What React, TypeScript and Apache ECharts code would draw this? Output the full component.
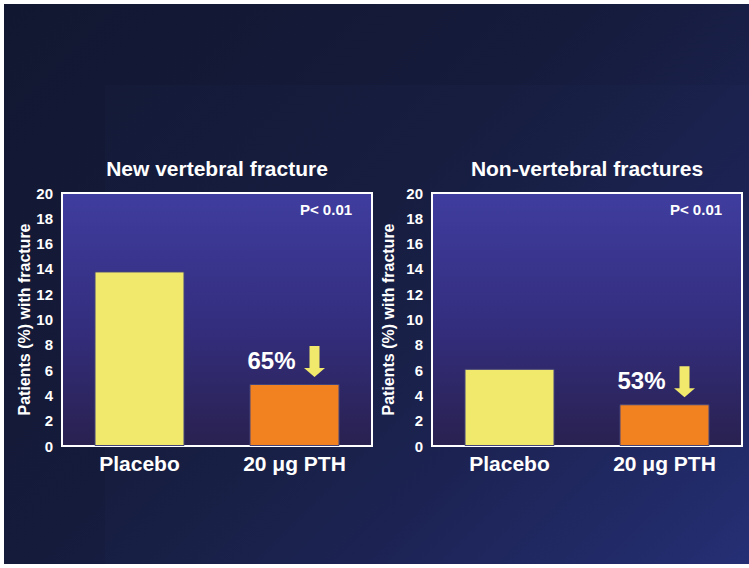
import React, { useEffect, useRef } from 'react';
import * as echarts from 'echarts';

const categories = ['Placebo', '20 μg PTH'];
const vertebralValues = [13.8, 4.9];
const nonVertebralValues = [6.1, 3.3];
const panelTitles = ['New vertebral fracture', 'Non-vertebral fractures'];
const reductionLabels = ['65%', '53%'];
const pValueLabels = ['P< 0.01', 'P< 0.01'];
const yAxisNames = ['Patients (%) with fracture', 'Patients (%) with fracture'];
const barColors = ['#f1e96b', '#f28220'];
const yMin = 0;
const yMax = 20;
const yInterval = 2;

const FONT = '"Liberation Sans", Arial, Helvetica, sans-serif';
const GRIDS = [
  { left: 62, top: 193, width: 310, height: 253 },
  { left: 432, top: 193, width: 310, height: 253 },
];
const NAME_GAPS = [29, 36];

export default function App() {
  const ref = useRef<HTMLDivElement>(null);

  useEffect(() => {
    if (!ref.current) return;
    const chart = echarts.init(ref.current, undefined, { renderer: 'svg' });
    const panels = [vertebralValues, nonVertebralValues];

    const plotBg = new echarts.graphic.LinearGradient(0, 0, 0, 1, [
      { offset: 0, color: '#3f3d9f' },
      { offset: 0.55, color: '#332d7c' },
      { offset: 1, color: '#29214f' },
    ]);

    const option: any = {
      animation: false,
      backgroundColor: 'transparent',
      textStyle: { fontFamily: FONT },
      grid: GRIDS.map((g) => ({
        ...g,
        show: true,
        backgroundColor: plotBg,
        borderColor: '#ffffff',
        borderWidth: 2,
        containLabel: false,
      })),
      xAxis: panels.map((_, i) => ({
        type: 'category',
        gridIndex: i,
        data: categories,
        axisLine: { show: false },
        axisTick: { show: false },
        axisLabel: {
          color: '#ffffff',
          fontWeight: 'bold',
          fontSize: 21,
          fontFamily: FONT,
          margin: 7,
        },
      })),
      yAxis: panels.map((_, i) => ({
        type: 'value',
        gridIndex: i,
        min: yMin,
        max: yMax,
        interval: yInterval,
        name: yAxisNames[i],
        nameLocation: 'middle',
        nameGap: NAME_GAPS[i],
        nameTextStyle: {
          color: '#ffffff',
          fontWeight: 'bold',
          fontSize: 16,
          fontFamily: FONT,
        },
        axisLine: { show: false },
        axisTick: { show: false },
        splitLine: { show: false },
        axisLabel: {
          color: '#ffffff',
          fontWeight: 'bold',
          fontSize: 15,
          fontFamily: FONT,
          margin: 9,
        },
      })),
      series: panels.map((vals, i) => ({
        type: 'bar',
        xAxisIndex: i,
        yAxisIndex: i,
        barWidth: 90,
        data: vals.map((v, k) => ({
          value: v,
          itemStyle: {
            color: barColors[k],
            borderColor: '#44447a',
            borderWidth: 1,
          },
        })),
      })),
    };
    chart.setOption(option);

    const graphics: any[] = [];
    GRIDS.forEach((g, i) => {
      graphics.push({
        type: 'text',
        x: g.left + g.width / 2,
        y: g.top - 25,
        style: {
          text: panelTitles[i],
          fill: '#ffffff',
          font: `bold 21px ${FONT}`,
          align: 'center',
          verticalAlign: 'middle',
        },
      });
      graphics.push({
        type: 'text',
        x: g.left + g.width - 46,
        y: g.top + 16,
        style: {
          text: pValueLabels[i],
          fill: '#ffffff',
          font: `bold 15px ${FONT}`,
          align: 'center',
          verticalAlign: 'middle',
        },
      });
      const vals = panels[i];
      const p = chart.convertToPixel({ seriesIndex: i }, [1, vals[1]]) as number[];
      const cx = p[0];
      const topY = p[1];
      graphics.push({
        type: 'text',
        x: cx - 23,
        y: topY - 24,
        style: {
          text: reductionLabels[i],
          fill: '#ffffff',
          font: `bold 24px ${FONT}`,
          align: 'center',
          verticalAlign: 'middle',
        },
      });
      const ax = cx + 20;
      const tip = topY - 7;
      graphics.push({
        type: 'polygon',
        shape: {
          points: [
            [ax - 5, tip - 31],
            [ax + 5, tip - 31],
            [ax + 5, tip - 9],
            [ax + 10.5, tip - 9],
            [ax, tip],
            [ax - 10.5, tip - 9],
            [ax - 5, tip - 9],
          ],
        },
        style: { fill: '#f1e96b' },
      });
    });
    chart.setOption({ graphic: graphics });

    return () => chart.dispose();
  }, []);

  return (
    <div
      style={{
        position: 'fixed',
        left: 0,
        top: 0,
        width: 749,
        height: 568,
        background: '#ffffff',
        overflow: 'hidden',
      }}
    >
      <div
        style={{
          position: 'absolute',
          left: 4,
          top: 4,
          width: 745,
          height: 560,
          background:
            'linear-gradient(135deg, #121731 0%, #151b3b 45%, #1b2250 70%, #252e72 100%)',
        }}
      />
      <div
        style={{
          position: 'absolute',
          left: 105,
          top: 85,
          width: 644,
          height: 479,
          background: 'rgba(70, 90, 180, 0.03)',
        }}
      />
      <div
        ref={ref}
        style={{ position: 'absolute', left: 0, top: 0, width: 749, height: 568 }}
      />
    </div>
  );
}
